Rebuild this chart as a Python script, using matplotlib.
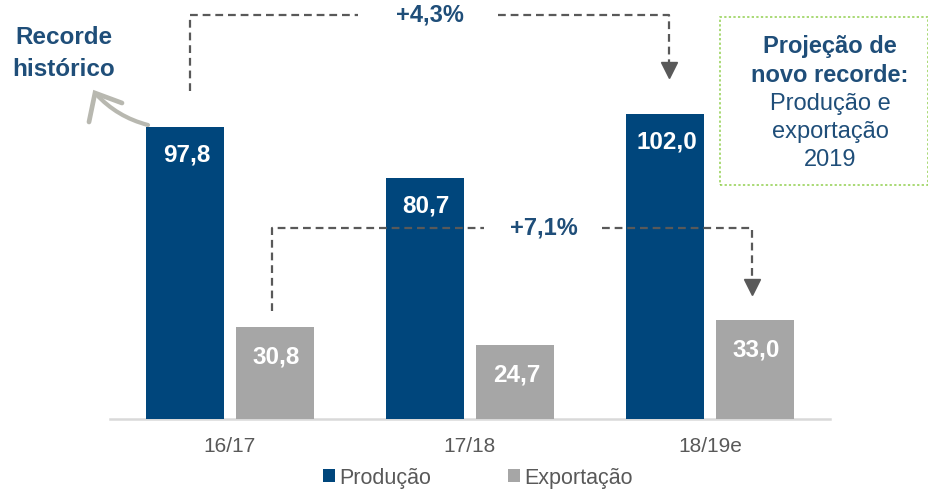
import matplotlib
matplotlib.use("Agg")
import matplotlib.pyplot as plt
from matplotlib.patches import Rectangle, PathPatch
from matplotlib.path import Path

plt.rcParams['font.family'] = ['Liberation Sans', 'DejaVu Sans']

categories = ["16/17", "17/18", "18/19e"]
producao = [97.8, 80.7, 102.0]
exportacao = [30.8, 24.7, 33.0]
prod_labels = ["97,8", "80,7", "102,0"]
exp_labels = ["30,8", "24,7", "33,0"]
series_names = ["Produção", "Exportação"]
growth_prod = "+4,3%"
growth_exp = "+7,1%"

BLUE = "#00467C"
GRAY = "#A6A6A6"
TXT_BLUE = "#1F4E79"
DASH = "#595959"

W, H = 929, 490
fig = plt.figure(figsize=(W / 100, H / 100), dpi=100)

def fx(x):
    return x / W

def fy(y):
    return 1 - y / H

base_y = 419
ax = fig.add_axes([fx(110), fy(base_y), 720 / W, base_y / H])
ax.set_xlim(-0.5, 2.5)
ax.set_ylim(0, base_y / 2.986)

off = 0.1875
bw = 0.325
xs = list(range(len(categories)))
b1 = ax.bar([x - off for x in xs], producao, bw, color=BLUE, zorder=2)
b2 = ax.bar([x + off for x in xs], exportacao, bw, color=GRAY, zorder=2)

for x, v, t in zip(xs, producao, prod_labels):
    ax.annotate(t, xy=(x - off, v), xytext=(1, -20), textcoords='offset points',
                ha='center', va='center', color='white', fontsize=17.5,
                fontweight='bold', zorder=4)
for x, v, t in zip(xs, exportacao, exp_labels):
    ax.annotate(t, xy=(x + off, v), xytext=(1, -21.5), textcoords='offset points',
                ha='center', va='center', color='white', fontsize=17.5,
                fontweight='bold', zorder=4)

ax.set_xticks(xs)
ax.set_xticklabels(categories, fontsize=15, color="#595959")
ax.tick_params(axis='x', length=0, pad=13)
ax.set_yticks([])
for s in ['top', 'left', 'right']:
    ax.spines[s].set_visible(False)
ax.spines['bottom'].set_color("#D9D9D9")
ax.spines['bottom'].set_linewidth(1.8)
ax.spines['bottom'].set_zorder(1)

# legend
leg = fig.legend([b1, b2], series_names, loc='center',
                 bbox_to_anchor=(fx(478), fy(478)), ncol=2, frameon=False,
                 handlelength=0.55, handleheight=0.55, handletextpad=0.2,
                 columnspacing=3.6, fontsize=15.5, borderaxespad=0)
for t in leg.get_texts():
    t.set_color("#595959")

# dashed connectors (figure-pixel coordinates)
dash_kw = dict(color=DASH, lw=1.6, linestyle=(0, (3.5, 2.2)), transform=fig.transFigure)

def dline(xs_, ys_):
    fig.add_artist(plt.Line2D([fx(v) for v in xs_], [fy(v) for v in ys_], **dash_kw))

def head(x, y):
    fig.add_artist(plt.Line2D([fx(x)], [fy(y)], marker='v', markersize=12,
                              color=DASH, transform=fig.transFigure, linestyle='none'))

# top: production
dline([190, 190, 358], [91, 15, 15])
dline([498, 669, 669], [15, 15, 62])
head(669, 70)
fig.text(fx(430), fy(15), growth_prod, ha='center', va='center', fontsize=17,
         fontweight='bold', color=TXT_BLUE)

# bottom: export
dline([272, 272, 484], [311, 228, 228])
dline([602, 752, 752], [228, 228, 278])
head(752, 287)
fig.text(fx(544), fy(228), growth_exp, ha='center', va='center', fontsize=17,
         fontweight='bold', color=TXT_BLUE)

# Recorde histórico
fig.text(fx(64), fy(38), "Recorde", ha='center', va='center', fontsize=17.5,
         fontweight='bold', color=TXT_BLUE)
fig.text(fx(64), fy(70), "histórico", ha='center', va='center', fontsize=17.5,
         fontweight='bold', color=TXT_BLUE)

# hand-drawn style curved arrow
ARC = "#B8B8B0"
shaft = Path([(fx(148), fy(125)), (fx(117), fy(117)), (fx(96), fy(94))],
             [Path.MOVETO, Path.CURVE3, Path.CURVE3])
fig.add_artist(PathPatch(shaft, fill=False, edgecolor=ARC, lw=3.0,
                         capstyle='round', transform=fig.transFigure))
barbs = Path([(fx(89), fy(122)), (fx(95), fy(93)), (fx(122), fy(103))],
             [Path.MOVETO, Path.LINETO, Path.LINETO])
fig.add_artist(PathPatch(barbs, fill=False, edgecolor=ARC, lw=3.4,
                         capstyle='round', joinstyle='miter', transform=fig.transFigure))

# projection box
box = Rectangle((fx(720), fy(185)), (928 - 720) / W, (185 - 17) / H,
                transform=fig.transFigure, fill=False, edgecolor="#92D050",
                lw=1.1, linestyle=(0, (1.5, 1.5)))
fig.add_artist(box)
box_lines = [("Projeção de", 'bold', 46), ("novo recorde:", 'bold', 75),
             ("Produção e", 'normal', 104), ("exportação", 'normal', 132),
             ("2019", 'normal', 160)]
for txt, wgt, y in box_lines:
    fig.text(fx(830), fy(y), txt, ha='center', va='center', fontsize=17,
             fontweight=wgt, color=TXT_BLUE)

fig.savefig("out.png", dpi=100)
